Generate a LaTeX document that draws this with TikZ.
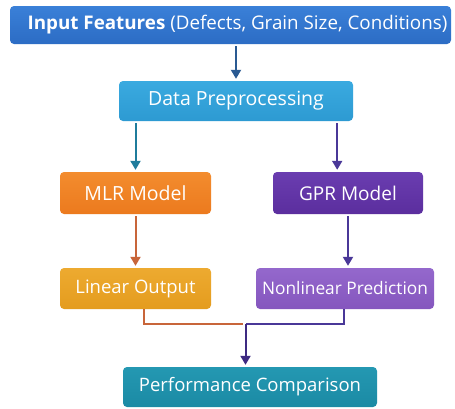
\documentclass[tikz,border=0pt]{standalone}
\usepackage{fontspec}
\setmainfont{Open Sans}
\usetikzlibrary{arrows.meta,calc}
\definecolor{cTop}{HTML}{2C6CC4}
\definecolor{cTopL}{HTML}{3A80D8}
\definecolor{cDP}{HTML}{2D9AD2}
\definecolor{cDPL}{HTML}{3AAAE0}
\definecolor{cMLR}{HTML}{EC7A1E}
\definecolor{cMLRL}{HTML}{F38C2E}
\definecolor{cGPR}{HTML}{5B2E9E}
\definecolor{cGPRL}{HTML}{6A3DB0}
\definecolor{cLO}{HTML}{E49C1E}
\definecolor{cLOL}{HTML}{EDAA30}
\definecolor{cNP}{HTML}{8556BE}
\definecolor{cNPL}{HTML}{9468CC}
\definecolor{cPC}{HTML}{1B8AA4}
\definecolor{cPCL}{HTML}{2498B2}
\definecolor{aTop}{HTML}{2A5A92}
\definecolor{aTeal}{HTML}{1F7C9C}
\definecolor{aPurp}{HTML}{4A3898}
\definecolor{aOr}{HTML}{C8653A}
\definecolor{aPurpD}{HTML}{3E2A82}
\tikzset{
  box/.style={rounded corners=4pt, text=white, font=\fontsize{18.5}{20}\selectfont, inner sep=0pt, draw=none},
  conn/.style={line width=2pt, -{Triangle[width=10pt,length=9pt]}, shorten >=2pt, shorten <=2pt},
  plain/.style={line width=2pt}
}
\begin{document}
\begin{tikzpicture}[x=1pt,y=-1pt]
\useasboundingbox (0,0) rectangle (455,408);
\fill[white] (0,0) rectangle (455,408);
% boxes
\node[box, font=\fontsize{18.8}{20}\selectfont, top color=cTopL, bottom color=cTop, minimum width=441pt, minimum height=38pt] (inp) at (230.5,25) {\hspace*{14pt}\textbf{Input Features} (Defects, Grain Size, Conditions)};
\node[box, font=\fontsize{19.5}{21}\selectfont, top color=cDPL, bottom color=cDP, minimum width=234pt, minimum height=40pt] (dp) at (236,101) {Data Preprocessing};
\node[box, font=\fontsize{19.5}{21}\selectfont, top color=cMLRL, bottom color=cMLR, minimum width=151pt, minimum height=42pt] (mlr) at (135.5,193) {MLR Model};
\node[box, font=\fontsize{19}{21}\selectfont, top color=cGPRL, bottom color=cGPR, minimum width=150pt, minimum height=42pt] (gpr) at (348,193) {GPR Model};
\node[box, top color=cLOL, bottom color=cLO, minimum width=151pt, minimum height=41pt] (lo) at (135.5,288.5) {Linear Output};
\node[box, font=\fontsize{17.3}{19}\selectfont, top color=cNPL, bottom color=cNP, minimum width=178pt, minimum height=41pt] (np) at (345,288.5) {Nonlinear Prediction};
\node[box, top color=cPCL, bottom color=cPC, minimum width=254pt, minimum height=40pt] (pc) at (250,387) {Performance Comparison};
% coordinates
\coordinate (j) at (245.5,324);
\coordinate (dpr) at ($(dp.south east)+(-16,0)$);
% connectors
\draw[conn, aTop] (inp.south -| dp.north) -- (dp.north);
\draw[conn, aTeal] (dp.south -| mlr.north) -- (mlr.north);
\draw[conn, aPurp] (dpr) -- (dpr |- gpr.north);
\draw[conn, aOr] (mlr.south) -- (lo.north);
\draw[conn, aPurp] (gpr.south) -- (gpr.south |- np.north);
\draw[plain, aOr] ($(lo.south)+(8.5,0)$) |- ($(j)+(-2.5,0)$);
\draw[plain, aPurp] ($(np.south)+(-1,0)$) |- (j);
\draw[conn, aPurpD, shorten <=0pt] (j) -- ($(pc.north)+(-4.5,0)$);
\end{tikzpicture}
\end{document}
